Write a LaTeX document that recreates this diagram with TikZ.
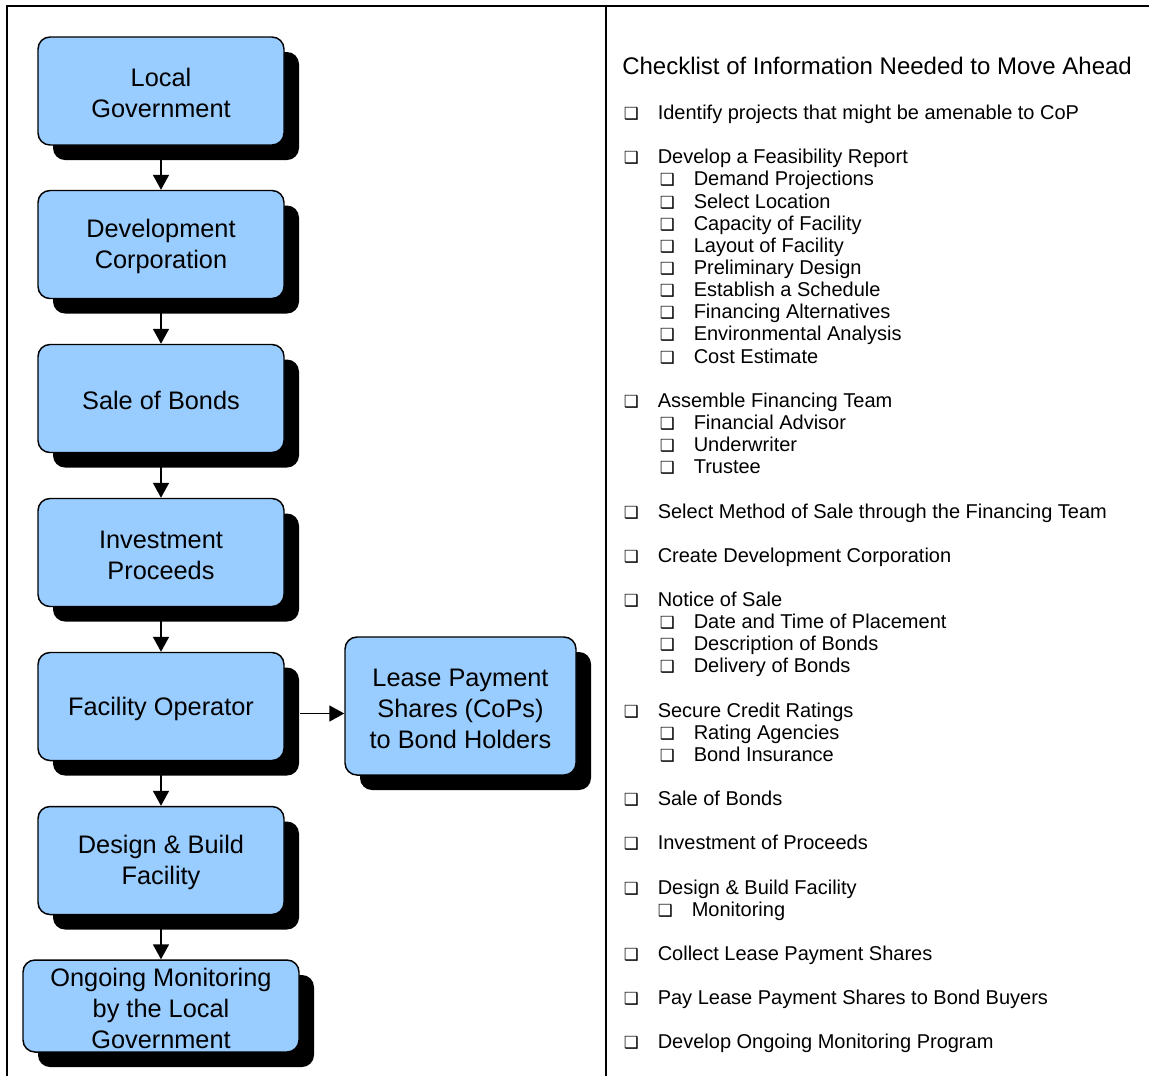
\documentclass[tikz,border=0pt]{standalone}
\usepackage{fontspec}
\setmainfont{Liberation Sans}
\newfontfamily\dvfont{DejaVu Sans}
\usetikzlibrary{shadows,arrows.meta}
\definecolor{boxblue}{HTML}{99CCFF}
\tikzset{
 flowbox/.style={draw=black, line width=1.1pt, fill=boxblue, rounded corners=9pt, align=center, inner sep=0pt,
   font=\fontsize{19}{23.25}\selectfont,
   drop shadow={shadow xshift=11.25pt, shadow yshift=-11.25pt, fill=black, opacity=1}},
 flowarrow/.style={line width=1.3pt, -{Triangle[width=12pt,length=11.25pt]}},
 listitem/.style={anchor=base west, inner sep=0pt, font=\fontsize{15}{18}\selectfont},
 titletext/.style={anchor=base west, inner sep=0pt, font=\fontsize{18}{21}\selectfont},
 framerule/.style={line width=1.5pt}
}
\newcommand{\ckb}{\makebox[25.5pt][l]{\dvfont\fontsize{12.5}{12.5}\selectfont ❑}}
\newcommand{\tup}{\rule{0pt}{16.8pt}}
\begin{document}
\begin{tikzpicture}[x=0.75pt,y=-0.75pt]
\useasboundingbox (0,0) rectangle (1149,1076);
% frame
\draw[framerule] (7,1076) -- (7,6) -- (1149,6);
\draw[framerule] (606,6) -- (606,1076);
% flow boxes
\node[flowbox, minimum width=184.5pt, minimum height=81pt] (lg) at (161,91) {\tup Local\\Government};
\node[flowbox, minimum width=184.5pt, minimum height=81pt] (dc) at (161,244.5) {\tup Development\\Corporation};
\node[flowbox, minimum width=184.5pt, minimum height=81pt] (sb) at (161,398.5) {\tup Sale of Bonds};
\node[flowbox, minimum width=184.5pt, minimum height=81pt] (ip) at (161,552.5) {\tup Investment\\Proceeds};
\node[flowbox, minimum width=184.5pt, minimum height=81pt] (fo) at (161,706.5) {\tup Facility Operator};
\node[flowbox, minimum width=184.5pt, minimum height=81pt] (db) at (161,860.5) {\tup Design \& Build\\Facility};
\node[flowbox, minimum width=207pt, minimum height=69pt] (om) at (161,1006) {\tup Ongoing Monitoring\\by the Local\\Government};
\node[flowbox, minimum width=173.25pt, minimum height=103.5pt] (lp) at (460.5,706) {\tup Lease Payment\\Shares (CoPs)\\to Bond Holders};
% arrows
\draw[flowarrow] (lg.south) -- (dc.north);
\draw[flowarrow] (dc.south) -- (sb.north);
\draw[flowarrow] (sb.south) -- (ip.north);
\draw[flowarrow] (ip.south) -- (fo.north);
\draw[flowarrow] (fo.south) -- (db.north);
\draw[flowarrow] (db.south) -- (om.north);
\coordinate (harr) at (300,713.5);
\draw[flowarrow] (harr) -- (lp.west |- harr);
% checklist
\node[titletext] (title) at (622,74) {Checklist of Information Needed to Move Ahead};
\foreach \y/\t [count=\i] in {
 118/Identify projects that might be amenable to CoP,
 162/Develop a Feasibility Report,
 406/Assemble Financing Team,
 517/Select Method of Sale through the Financing Team,
 561/Create Development Corporation,
 605/Notice of Sale,
 716/Secure Credit Ratings,
 804/Sale of Bonds,
 848/Investment of Proceeds,
 893/Design \& Build Facility,
 959/Collect Lease Payment Shares,
 1003/Pay Lease Payment Shares to Bond Buyers,
 1047/Develop Ongoing Monitoring Program}
 \node[listitem] (m\i) at (623.5,\y+1) {\ckb\t};
\foreach \y/\t [count=\i] in {
 184/Demand Projections,
 207/Select Location,
 229/Capacity of Facility,
 251/Layout of Facility,
 273/Preliminary Design,
 295/Establish a Schedule,
 317/Financing Alternatives,
 339/Environmental Analysis,
 362/Cost Estimate,
 428/Financial Advisor,
 450/Underwriter,
 472/Trustee,
 627/Date and Time of Placement,
 649/Description of Bonds,
 671/Delivery of Bonds,
 738/Rating Agencies,
 760/Bond Insurance}
 \node[listitem] (s\i) at (659.5,\y+1) {\ckb\t};
\node[listitem] (s18) at (657.5,916) {\ckb Monitoring};
\end{tikzpicture}
\end{document}
